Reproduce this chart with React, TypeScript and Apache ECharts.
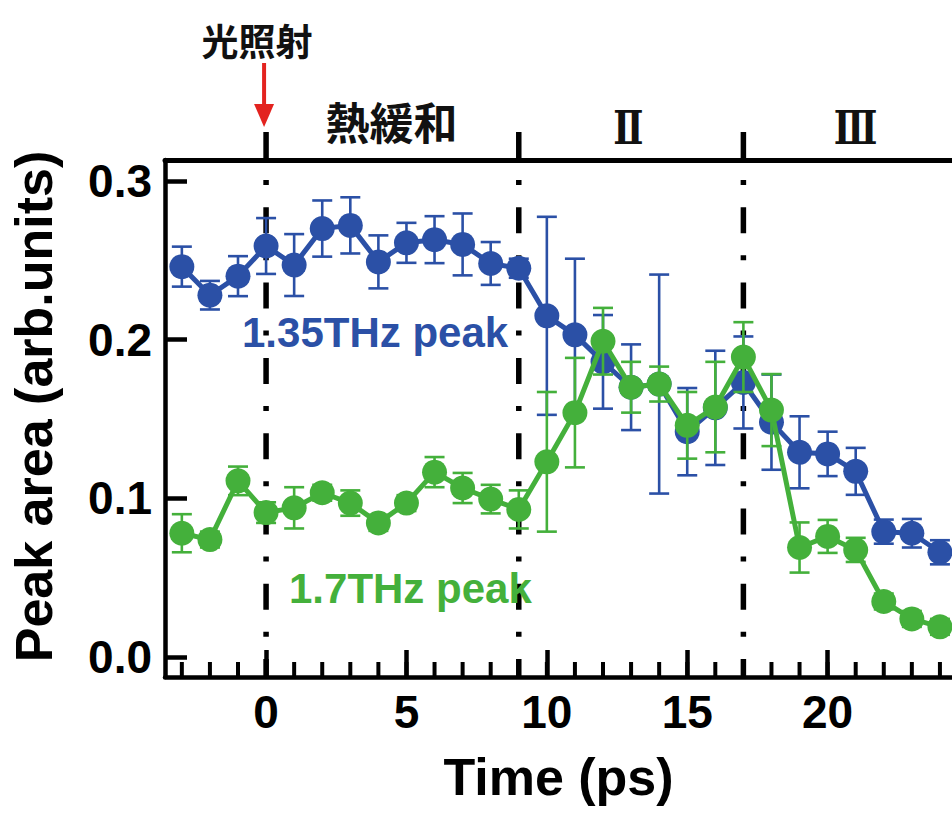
import React, { useEffect, useRef } from "react";
import * as echarts from "echarts";

const times = [-3, -2, -1, 0, 1, 2, 3, 4, 5, 6, 7, 8, 9, 10, 11, 12, 13, 14, 15, 16, 17, 18, 19, 20, 21, 22, 23, 24];
const blue = [0.246, 0.228, 0.24, 0.259, 0.247, 0.27, 0.272, 0.249, 0.261, 0.263, 0.26, 0.248, 0.245, 0.215, 0.203, 0.186, 0.17, 0.172, 0.142, 0.157, 0.173, 0.148, 0.129, 0.128, 0.117, 0.079, 0.078, 0.066];
const blueErr = [0.0126, 0.009, 0.0126, 0.0176, 0.0195, 0.0177, 0.0177, 0.0167, 0.0126, 0.0148, 0.0195, 0.0135, 0.006, 0.0624, 0.048, 0.0295, 0.027, 0.069, 0.0275, 0.036, 0.029, 0.03, 0.0227, 0.014, 0.0148, 0.0076, 0.009, 0.0076];
const green = [0.078, 0.074, 0.111, 0.091, 0.094, 0.1035, 0.097, 0.0845, 0.097, 0.1165, 0.1065, 0.0995, 0.093, 0.123, 0.154, 0.199, 0.17, 0.172, 0.146, 0.1575, 0.189, 0.1556, 0.069, 0.076, 0.0675, 0.035, 0.024, 0.019];
const greenErr = [0.012, 0.005, 0.009, 0.0065, 0.013, 0.005, 0.008, 0.005, 0.005, 0.0095, 0.0095, 0.009, 0.012, 0.044, 0.0345, 0.021, 0.016, 0.011, 0.021, 0.0285, 0.022, 0.0227, 0.0158, 0.0104, 0.0076, 0.005, 0.005, 0.005];

const boundaries = [0, 9, 17];
const regionLabels = ["熱緩和", "Ⅱ", "Ⅲ"];
const regionLabelX = [4.47, 12.9, 21.0];
const xMajorTicks = [0, 5, 10, 15, 20];
const xMinorTicks = [-3, -2, -1, 0, 1, 2, 3, 4, 5, 6, 7, 8, 9, 10, 11, 12, 13, 14, 15, 16, 17, 18, 19, 20, 21, 22, 23, 24];
const yTicks = [0, 0.1, 0.2, 0.3];

const X_MIN = -3.6;
const X_MAX = 24.43;
const Y_MIN = -0.0126;
const Y_MAX = 0.3132;

const BLUE = "#2b50a6";
const GREEN = "#44b03b";
const FONT = "'Liberation Sans', Arial, Helvetica, sans-serif";
const CJK = "'Noto Sans CJK JP', 'Noto Sans CJK SC', sans-serif";
const ROMAN = "'DejaVu Serif', 'Liberation Serif', serif";

function errorSeries(vals: number[], errs: number[], color: string, z: number) {
  return {
    type: "custom",
    z,
    xAxisIndex: 0,
    yAxisIndex: 0,
    silent: true,
    data: times.map((t, i) => [t, vals[i] - errs[i], vals[i] + errs[i]]),
    renderItem: (params: any, api: any) => {
      const x = api.value(0);
      const lo = api.coord([x, api.value(1)]);
      const hi = api.coord([x, api.value(2)]);
      const w = 10;
      const st = { stroke: color, lineWidth: 2.6 };
      return {
        type: "group",
        children: [
          { type: "line", shape: { x1: hi[0], y1: hi[1], x2: lo[0], y2: lo[1] }, style: st },
          { type: "line", shape: { x1: hi[0] - w, y1: hi[1], x2: hi[0] + w, y2: hi[1] }, style: st },
          { type: "line", shape: { x1: lo[0] - w, y1: lo[1], x2: lo[0] + w, y2: lo[1] }, style: st },
        ],
      };
    },
  };
}

export default function App() {
  const ref = useRef<HTMLDivElement>(null);
  useEffect(() => {
    if (!ref.current) return;
    const chart = echarts.init(ref.current, null, { renderer: "svg" });
    const option: any = {
      animation: false,
      backgroundColor: "#ffffff",
      grid: { left: 163, top: 160, right: 0, bottom: 139, containLabel: false },
      xAxis: [
        {
          type: "value",
          position: "bottom",
          min: X_MIN,
          max: X_MAX,
          name: "Time (ps)",
          nameLocation: "middle",
          nameGap: 74,
          nameTextStyle: { fontFamily: FONT, fontWeight: "bold", fontSize: 52, color: "#000" },
          axisLine: { show: true, onZero: false, lineStyle: { color: "#000", width: 4.5 } },
          axisTick: { show: true, inside: true, length: 27, customValues: xMajorTicks, lineStyle: { color: "#000", width: 4.5 } },
          axisLabel: {
            show: true,
            customValues: xMajorTicks,
            margin: 12,
            fontFamily: FONT,
            fontWeight: "bold",
            fontSize: 46,
            color: "#000",
          },
          splitLine: { show: false },
        },
        {
          type: "value",
          position: "top",
          min: X_MIN,
          max: X_MAX,
          axisLine: { show: true, onZero: false, lineStyle: { color: "#000", width: 5 } },
          axisTick: { show: false },
          axisLabel: { show: false },
          splitLine: { show: false },
        },
      ],
      yAxis: {
        type: "value",
        min: Y_MIN,
        max: Y_MAX,
        name: "Peak area (arb.units)",
        nameLocation: "middle",
        nameGap: 105,
        nameRotate: 90,
        nameTextStyle: { fontFamily: FONT, fontWeight: "bold", fontSize: 52, color: "#000", padding: [0, 0, 0, 24] },
        axisLine: { show: true, onZero: false, lineStyle: { color: "#000", width: 4.5 } },
        axisTick: { show: true, inside: true, length: 22, customValues: yTicks, lineStyle: { color: "#000", width: 4.5 } },
        axisLabel: {
          show: true,
          customValues: yTicks,
          margin: 13,
          formatter: (v: number) => v.toFixed(1),
          fontFamily: FONT,
          fontWeight: "bold",
          fontSize: 46,
          color: "#000",
        },
        splitLine: { show: false },
      },
      series: [
        {
          type: "custom",
          z: 1,
          silent: true,
          clip: false,
          data: xMinorTicks.map((t) => [t]),
          renderItem: (params: any, api: any) => {
            const p = api.coord([api.value(0), Y_MIN]);
            return {
              type: "line",
              shape: { x1: p[0], y1: p[1], x2: p[0], y2: p[1] - 15 },
              style: { stroke: "#000", lineWidth: 4 },
            };
          },
        },
        {
          type: "custom",
          z: 1,
          silent: true,
          clip: false,
          data: boundaries.map((b) => [b]),
          renderItem: (params: any, api: any) => {
            const x = api.value(0);
            const top = api.coord([x, Y_MAX]);
            const bot = api.coord([x, Y_MIN]);
            return {
              type: "line",
              shape: { x1: top[0], y1: top[1] - 28, x2: bot[0], y2: bot[1] },
              style: { stroke: "#000", lineWidth: 5.5, lineDash: [26, 22, 5, 22.3] },
            };
          },
        },
        {
          type: "custom",
          z: 1,
          silent: true,
          clip: false,
          data: regionLabels.map((name, i) => [regionLabelX[i], name]),
          renderItem: (params: any, api: any) => {
            const p = api.coord([api.value(0), Y_MAX]);
            const name = regionLabels[params.dataIndex];
            const isRoman = params.dataIndex > 0;
            return {
              type: "text",
              x: p[0],
              y: p[1] - (isRoman ? 32 : 39),
              scaleX: isRoman ? 0.78 : 1,
              style: {
                text: name,
                fill: "#111",
                font: isRoman ? `bold 46px ${ROMAN}` : `bold 44px ${CJK}`,
                align: "center",
                verticalAlign: "middle",
              },
            };
          },
        },
        {
          type: "custom",
          z: 1,
          silent: true,
          clip: false,
          data: [[0]],
          renderItem: (params: any, api: any) => {
            const p = api.coord([api.value(0), Y_MAX]);
            const x = p[0] - 2;
            return {
              type: "group",
              children: [
                { type: "line", shape: { x1: x, y1: 63, x2: x, y2: 108 }, style: { stroke: "#e3231f", lineWidth: 4 } },
                { type: "polygon", shape: { points: [[x - 10, 104], [x + 10, 104], [x, 127]] }, style: { fill: "#e3231f" } },
                {
                  type: "text",
                  x: x - 7,
                  y: 40,
                  style: { text: "光照射", fill: "#111", font: `bold 37px ${CJK}`, align: "center", verticalAlign: "middle" },
                },
              ],
            };
          },
        },
        errorSeries(blue, blueErr, BLUE, 2),
        {
          type: "line",
          z: 3,
          data: times.map((t, i) => [t, blue[i]]),
          symbol: "circle",
          symbolSize: 25,
          itemStyle: { color: BLUE },
          lineStyle: { color: BLUE, width: 5 },
        },
        errorSeries(green, greenErr, GREEN, 4),
        {
          type: "line",
          z: 5,
          data: times.map((t, i) => [t, green[i]]),
          symbol: "circle",
          symbolSize: 25,
          itemStyle: { color: GREEN },
          lineStyle: { color: GREEN, width: 5 },
        },
      ],
      graphic: [
        {
          type: "text",
          left: 242,
          top: 311,
          z: 10,
          style: { text: "1.35THz peak", fill: BLUE, font: `bold 42px ${FONT}` },
        },
        {
          type: "text",
          left: 289,
          top: 567,
          z: 10,
          style: { text: "1.7THz peak", fill: GREEN, font: `bold 42px ${FONT}` },
        },
      ],
    };
    chart.setOption(option);
    return () => chart.dispose();
  }, []);
  return (
    <div
      ref={ref}
      style={{ position: "absolute", left: 0, top: 0, width: 952, height: 816, background: "#fff" }}
    />
  );
}
